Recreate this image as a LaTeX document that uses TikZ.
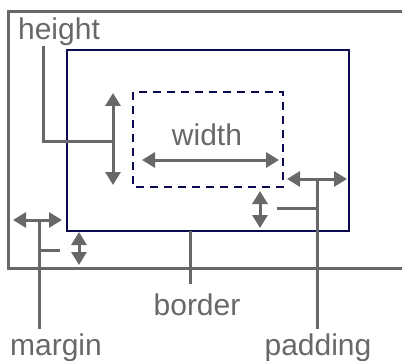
\documentclass[tikz,border=0pt]{standalone}
\usepackage{fontspec}
\setmainfont{Liberation Sans}
\usetikzlibrary{arrows.meta,positioning}
\definecolor{boxgray}{HTML}{686868}
\definecolor{boxnavy}{HTML}{0B0B50}

\begin{document}
\begin{tikzpicture}[
    x=1pt, y=-1pt,
    font=\fontsize{30}{32}\selectfont,
    tag/.style={text=boxgray, inner sep=0pt, anchor=base},
    marginline/.style={draw=boxgray, line width=3pt},
    borderbox/.style={draw=boxnavy, line width=2.8pt},
    contentbox/.style={draw=boxnavy, line width=2.8pt, dash pattern=on 8pt off 6pt},
    leader/.style={draw=boxgray, line width=3pt},
    dim/.style={{Triangle[width=15pt,length=13pt]}-{Triangle[width=15pt,length=13pt]}, draw=boxgray, line width=3pt}
]
\useasboundingbox (0,0) rectangle (402,361);

% boxes
\draw[marginline] (403,12) -- (8,12) -- (8,268) -- (403,268);
\draw[borderbox] (67,50) rectangle (349,231);
\draw[contentbox] (133,92) rectangle (283,187);

% labels
\node[tag] (height) at (59,40) {height};
\node[tag] (width) at (207,145) {width};
\node[tag] (border) at (197,315) {border};
\node[tag] (margin) at (56,355) {margin};
\node[tag] (padding) at (318,355) {padding};

% arrow ends
\coordinate (ht) at (113,93);  \coordinate (hb) at (113,185);
\coordinate (wl) at (142,160); \coordinate (wr) at (279,160);
\coordinate (pl) at (287,179); \coordinate (pr) at (347,179);
\coordinate (pt) at (260,191); \coordinate (pb) at (260,228);
\coordinate (ml) at (13,220);  \coordinate (mr) at (62,220);
\coordinate (mt) at (79,232);  \coordinate (mb) at (79,265);

\foreach \i/\j in {ht/hb, wl/wr, pl/pr, pt/pb, ml/mr, mt/mb}
  \draw[dim] (\i) -- (\j);

% leaders
\coordinate (hbend) at (43,141);
\draw[leader] (height.south -| hbend) -- (hbend) -- (hbend -| ht);
\coordinate (bfoot) at (190,231);
\draw[leader, shorten >=9pt] (bfoot) -- (bfoot |- border.north);
\coordinate (ptop) at (317,179); \coordinate (pbranch) at (277,208);
\draw[leader, shorten >=4pt] (ptop) -- (ptop |- padding.north);
\draw[leader] (pbranch) -- (pbranch -| ptop);
\coordinate (mtop) at (39,220); \coordinate (mbranch) at (60,250);
\draw[leader, shorten >=4pt] (mtop) -- (mtop |- margin.north);
\draw[leader] (mbranch) -- (mbranch -| mtop);
\end{tikzpicture}
\end{document}
